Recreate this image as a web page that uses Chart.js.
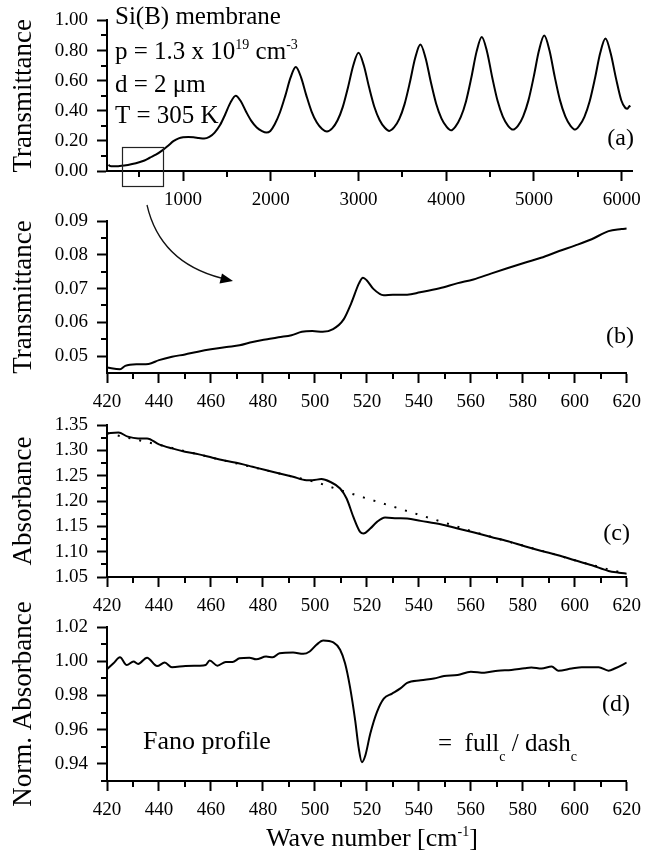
<!DOCTYPE html>
<html>
<head>
<meta charset="utf-8">
<script src="https://cdn.jsdelivr.net/npm/chart.js@4.4.1/dist/chart.umd.min.js"></script>
<style>
  html, body { margin: 0; padding: 0; background: #fff; }
  #page { position: relative; width: 649px; height: 858px; overflow: hidden; background: #fff; }
</style>
</head>
<body>
<div id="page"></div>
<script>
// ---- panel (a): full transmittance spectrum ----
const waveA = [150, 165, 200, 260, 330, 420, 500, 560, 620, 690, 760, 830, 890, 950, 1000, 1060, 1120, 1180, 1240,
  1300, 1360, 1420, 1480, 1540, 1600, 1660, 1720, 1780, 1840, 1900, 1950,
  1995, 2045, 2105, 2165, 2225, 2285, 2345, 2405, 2465, 2525, 2585, 2640,
  2700, 2760, 2820, 2880, 2940, 3000, 3060, 3120, 3180, 3240, 3300, 3350,
  3405, 3465, 3525, 3585, 3645, 3705, 3765, 3825, 3885, 3945, 4005, 4055,
  4105, 4165, 4225, 4285, 4345, 4405, 4465, 4525, 4585, 4645, 4705, 4760,
  4817, 4877, 4937, 4997, 5057, 5117, 5177, 5237, 5297, 5357, 5417, 5470,
  5515, 5575, 5635, 5695, 5755, 5815, 5875, 5935, 5995, 6040, 6065, 6085, 6100];
const transA = [0.042, 0.034, 0.031, 0.032, 0.036, 0.046, 0.058, 0.070, 0.088, 0.108, 0.135, 0.168, 0.198, 0.217, 0.224, 0.226, 0.224, 0.219, 0.215,
  0.226, 0.255, 0.303, 0.375, 0.454, 0.500, 0.461, 0.392, 0.331, 0.289, 0.265, 0.255,
  0.266, 0.310, 0.390, 0.499, 0.620, 0.690, 0.622, 0.502, 0.395, 0.322, 0.279, 0.262,
  0.283, 0.335, 0.424, 0.555, 0.701, 0.785, 0.702, 0.557, 0.427, 0.339, 0.287, 0.266,
  0.289, 0.346, 0.444, 0.587, 0.748, 0.840, 0.749, 0.589, 0.447, 0.350, 0.293, 0.270,
  0.295, 0.357, 0.462, 0.617, 0.791, 0.890, 0.792, 0.619, 0.466, 0.361, 0.300, 0.275,
  0.300, 0.363, 0.469, 0.625, 0.800, 0.900, 0.800, 0.625, 0.469, 0.363, 0.300, 0.275,
  0.299, 0.360, 0.463, 0.614, 0.783, 0.880, 0.780, 0.615, 0.470, 0.420, 0.413, 0.428, 0.433];
const ticksAx = [1000, 2000, 3000, 4000, 5000, 6000];
const minorAx = [500, 1500, 2500, 3500, 4500, 5500];
const ticksAy = [0, 0.2, 0.4, 0.6, 0.8, 1.0];
const minorAy = [0.1, 0.3, 0.5, 0.7, 0.9];

// ---- panel (b): transmittance near 520 cm-1 ----
const waveB = [420, 425, 427, 432, 436, 440, 445, 450, 455, 460, 466, 471, 476, 481, 486, 491, 495, 499, 503, 507,
  511, 514, 517, 518.5, 520, 522.5, 526.5, 530, 535.5, 540.5, 548, 555, 561, 568, 574, 581, 587, 594, 600, 606.5, 613, 618, 620];
const transB = [0.0466, 0.0461, 0.0471, 0.0476, 0.0477, 0.0488, 0.0498, 0.0505, 0.0513, 0.0520, 0.0527, 0.0532, 0.0542, 0.0549, 0.0556, 0.0562, 0.0572, 0.0574, 0.0572, 0.0580,
  0.0608, 0.0657, 0.0716, 0.0732, 0.0724, 0.0699, 0.0680, 0.0682, 0.0682, 0.0689, 0.0701, 0.0716, 0.0727, 0.0745, 0.0760, 0.0777, 0.0791, 0.0811, 0.0827, 0.0846, 0.0870, 0.0876, 0.0878];
const ticksBy = [0.05, 0.06, 0.07, 0.08, 0.09];
const minorBy = [0.055, 0.065, 0.075, 0.085];

// ---- panel (c): absorbance and its baseline ----
const waveC = [420, 424.4, 428, 432, 435.4, 440, 445, 450, 455.4, 460.6, 465.7, 471, 476, 481, 486.4, 491.6, 496.7, 499, 502.5, 505.8,
  509.7, 512.2, 514.8, 517.4, 518.7, 521.3, 523.9, 527, 531.6, 535.5, 540.7, 548.4, 554.9, 561.3, 567.8, 574.3, 580.7, 587.2, 593.6, 600, 606.6, 613, 617, 620];
const absC = [1.3335, 1.335, 1.327, 1.3236, 1.3236, 1.3118, 1.3038, 1.2973, 1.292, 1.2854, 1.2795, 1.2742, 1.2676, 1.261, 1.2544, 1.2478, 1.2412, 1.2412, 1.2432, 1.238,
  1.2247, 1.205, 1.1687, 1.139, 1.1357, 1.1456, 1.1588, 1.1674, 1.166, 1.1654, 1.1608, 1.1542, 1.1456, 1.1377, 1.1291, 1.1206, 1.1107, 1.1014, 1.0929, 1.083, 1.0731, 1.0619, 1.0586, 1.0566];
const waveBase = [420, 440, 460, 480, 490, 500, 510, 520, 530, 540, 550, 560, 570, 580, 590, 600, 610, 620];
const absBase = [1.334, 1.311, 1.286, 1.262, 1.250, 1.238, 1.221, 1.205, 1.189, 1.173, 1.157, 1.141, 1.126, 1.112, 1.098, 1.083, 1.069, 1.056];
const ticksCy = [1.05, 1.10, 1.15, 1.20, 1.25, 1.30, 1.35];
const minorCy = [1.075, 1.125, 1.175, 1.225, 1.275, 1.325];

// ---- panel (d): normalised absorbance (Fano profile) ----
const waveD = [420, 422.5, 425, 427.6, 430.2, 432, 435.4, 439.3, 442.2, 445, 450.2, 455.4, 458, 459.5, 462.5, 465.7, 468.3, 471, 474.8, 477.4,
  481.2, 483.8, 486.4, 491.6, 495.5, 498, 500.6, 503.2, 507.1, 509.7, 511.6, 513.5, 515.5, 516.8, 518.1, 519.4, 521.3, 523.9, 526.5, 529.7,
  532.9, 535.5, 540.7, 545.8, 549.7, 554.9, 560, 565.2, 570.4, 575.6, 580.7, 583.3, 587.2, 591.1, 593.6, 598.8, 602.7, 609.2, 613, 615.6, 620];
const normD = [0.9953, 0.9988, 1.0023, 0.9978, 0.9998, 0.9984, 1.0021, 0.9972, 0.9992, 0.9965, 0.9972, 0.9974, 0.9978, 1.0004, 0.9974, 0.9996, 0.9996, 1.0017, 1.0021, 1.0011,
  1.0027, 1.0023, 1.0047, 1.0051, 1.0043, 1.0057, 1.0096, 1.0121, 1.011, 1.0067, 0.9988, 0.985, 0.9654, 0.9498, 0.941, 0.9449, 0.9576, 0.9704, 0.9782, 0.9811,
  0.9841, 0.9874, 0.9889, 0.9899, 0.9913, 0.9919, 0.9939, 0.9933, 0.9945, 0.9949, 0.9959, 0.9963, 0.9957, 0.9969, 0.9945, 0.9957, 0.9965, 0.9965, 0.9945, 0.9959, 0.9992];
const ticksDy = [0.94, 0.96, 0.98, 1.00, 1.02];
const minorDy = [0.93, 0.95, 0.97, 0.99, 1.01];

// shared x ticks of the zoomed panels
const ticksZx = [420, 440, 460, 480, 500, 520, 540, 560, 580, 600, 620];
const minorZx = [430, 450, 470, 490, 510, 530, 550, 570, 590, 610];

const SERIF = '"Liberation Serif", "Times New Roman", serif';
Chart.defaults.font.family = SERIF;
Chart.defaults.color = '#000';

function pts(xs, ys) {
  return xs.map((x, i) => ({ x: x, y: ys[i] }));
}

function drawNote(ctx, n, top) {
  const runs = n.parts.map(p => {
    const s = p[1] ? Math.round(n.size * 0.55) : n.size;
    ctx.font = s + 'px ' + SERIF;
    return { t: p[0], k: p[1], s: s, w: ctx.measureText(p[0]).width };
  });
  const total = runs.reduce((a, r) => a + r.w, 0);
  let x = n.align === 'right' ? n.x - total : n.align === 'center' ? n.x - total / 2 : n.x;
  ctx.textAlign = 'left';
  ctx.textBaseline = 'alphabetic';
  runs.forEach(r => {
    ctx.font = r.s + 'px ' + SERIF;
    let dy = 0;
    if (r.k === 'sup') dy = -n.size * 0.4;
    if (r.k === 'sub') dy = n.size * 0.38;
    ctx.fillText(r.t, x, n.y - top + dy);
    x += r.w;
  });
}

// minor ticks, notes and extra drawings
function decor(p) {
  return {
    id: 'decor',
    afterDraw(chart) {
      const ctx = chart.ctx;
      const area = chart.chartArea;
      const xs = chart.scales.x, ys = chart.scales.y;
      ctx.save();
      ctx.strokeStyle = '#000';
      ctx.fillStyle = '#000';
      ctx.lineWidth = 2;
      ctx.beginPath();
      p.minorX.forEach(v => {
        const px = Math.round(xs.getPixelForValue(v));
        ctx.moveTo(px, area.bottom);
        ctx.lineTo(px, area.bottom + 6);
      });
      p.minorY.forEach(v => {
        const py = Math.round(ys.getPixelForValue(v));
        ctx.moveTo(area.left - 6, py);
        ctx.lineTo(area.left, py);
      });
      ctx.stroke();
      (p.notes || []).forEach(n => drawNote(ctx, n, p.top));
      if (p.extra) p.extra(chart, ctx);
      ctx.restore();
    }
  };
}

function makePanel(p) {
  const canvas = document.createElement('canvas');
  canvas.width = 649;
  canvas.height = p.height;
  canvas.style.cssText = 'position:absolute;left:0;top:' + p.top + 'px;';
  document.getElementById('page').appendChild(canvas);
  const tickFont = { family: SERIF, size: 19 };
  const grid = { display: true, drawOnChartArea: false, drawTicks: true, tickLength: 10, tickWidth: 2, tickColor: '#000' };
  const border = { display: true, color: '#000', width: 2 };
  return new Chart(canvas, {
    type: 'line',
    data: { datasets: p.datasets },
    options: {
      responsive: false,
      animation: false,
      events: [],
      layout: { padding: { top: p.padTop, right: 15, bottom: 0, left: 0 } },
      plugins: { legend: { display: false }, tooltip: { enabled: false } },
      elements: { point: { radius: 0 } },
      scales: {
        x: {
          type: 'linear', min: p.xMin, max: p.xMax,
          grid: grid, border: border,
          ticks: { font: tickFont, color: '#000', padding: 8, maxRotation: 0, autoSkip: false, callback: v => String(v) },
          afterBuildTicks: s => { s.ticks = p.xTicks.map(v => ({ value: v })); },
          afterFit: s => { s.height = p.xh; }
        },
        y: {
          type: 'linear', min: p.yMin, max: p.yMax,
          grid: grid, border: border,
          ticks: { font: tickFont, color: '#000', padding: 9, autoSkip: false, callback: v => Number(v).toFixed(2) },
          afterBuildTicks: s => { s.ticks = p.yTicks.map(v => ({ value: v })); },
          afterFit: s => { s.width = 107; },
          title: { display: true, text: p.yTitle, color: '#000', font: { family: SERIF, size: 27 }, padding: { top: 8, bottom: 0 } }
        }
      }
    },
    plugins: [decor(p)]
  });
}

function solid(xs, ys) {
  return { data: pts(xs, ys), borderColor: '#000', borderWidth: 2, cubicInterpolationMode: 'monotone', pointRadius: 0, fill: false };
}

// (a)
makePanel({
  top: 0, height: 210, padTop: 17, xh: 39,
  xMin: 133, xMax: 6121, xTicks: ticksAx, minorX: minorAx,
  yMin: 0, yMax: 1.0, yTicks: ticksAy, minorY: minorAy,
  yTitle: 'Transmittance',
  datasets: [solid(waveA, transA)],
  notes: [
    { x: 115, y: 24, size: 25, parts: [['Si(B) membrane']] },
    { x: 115, y: 59, size: 25, parts: [['p = 1.3 x 10'], ['19', 'sup'], [' cm'], ['-3', 'sup']] },
    { x: 115, y: 92, size: 25, parts: [['d = 2 \u03bcm']] },
    { x: 115, y: 123, size: 25, parts: [['T = 305 K']] },
    { x: 634, y: 145, size: 24, align: 'right', parts: [['(a)']] }
  ],
  extra: (chart, ctx) => {
    // frame marking the zoomed region
    const xs = chart.scales.x, ys = chart.scales.y;
    const x0 = xs.getPixelForValue(300), x1 = xs.getPixelForValue(765);
    const y0 = ys.getPixelForValue(0.158), y1 = ys.getPixelForValue(-0.10);
    ctx.lineWidth = 1.2;
    ctx.strokeStyle = '#222';
    ctx.strokeRect(Math.round(x0) + 0.5, Math.round(y0) + 0.5, Math.round(x1 - x0), Math.round(y1 - y0));
  }
});

// (b)
makePanel({
  top: 185, height: 222, padTop: 36, xh: 34,
  xMin: 420, xMax: 620, xTicks: ticksZx, minorX: minorZx,
  yMin: 0.045, yMax: 0.09, yTicks: ticksBy, minorY: minorBy,
  yTitle: 'Transmittance',
  datasets: [solid(waveB, transB)],
  notes: [{ x: 634, y: 343, size: 24, align: 'right', parts: [['(b)']] }],
  extra: (chart, ctx) => {
    // curved arrow from the frame in (a)
    const t = 185;
    ctx.lineWidth = 1.3;
    ctx.strokeStyle = '#111';
    ctx.beginPath();
    ctx.moveTo(147, 205 - t);
    ctx.quadraticCurveTo(160, 262 - t, 221, 278 - t);
    ctx.stroke();
    ctx.beginPath();
    ctx.moveTo(233, 281 - t);
    ctx.lineTo(219.5, 283.5 - t);
    ctx.lineTo(222, 273.5 - t);
    ctx.closePath();
    ctx.fill();
  }
});

// (c)
makePanel({
  top: 400, height: 211, padTop: 25, xh: 34,
  xMin: 420, xMax: 620, xTicks: ticksZx, minorX: minorZx,
  yMin: 1.05, yMax: 1.35, yTicks: ticksCy, minorY: minorCy,
  yTitle: 'Absorbance',
  datasets: [
    solid(waveC, absC),
    { data: pts(waveBase, absBase), borderColor: '#000', borderWidth: 2, borderDash: [2, 9], pointRadius: 0, fill: false, tension: 0 }
  ],
  notes: [{ x: 630, y: 540, size: 24, align: 'right', parts: [['(c)']] }]
});

// (d)
makePanel({
  top: 580, height: 278, padTop: 47, xh: 77,
  xMin: 420, xMax: 620, xTicks: ticksZx, minorX: minorZx,
  yMin: 0.93, yMax: 1.02, yTicks: ticksDy, minorY: minorDy,
  yTitle: 'Norm. Absorbance',
  datasets: [solid(waveD, normD)],
  notes: [
    { x: 630, y: 711, size: 24, align: 'right', parts: [['(d)']] },
    { x: 143, y: 749, size: 26, parts: [['Fano profile']] },
    { x: 438, y: 751, size: 25, parts: [['=  full'], ['c', 'sub'], [' / dash'], ['c', 'sub']] },
    { x: 372, y: 846, size: 26, align: 'center', parts: [['Wave number [cm'], ['-1', 'sup'], [']']] }
  ]
});
</script>
</body>
</html>
